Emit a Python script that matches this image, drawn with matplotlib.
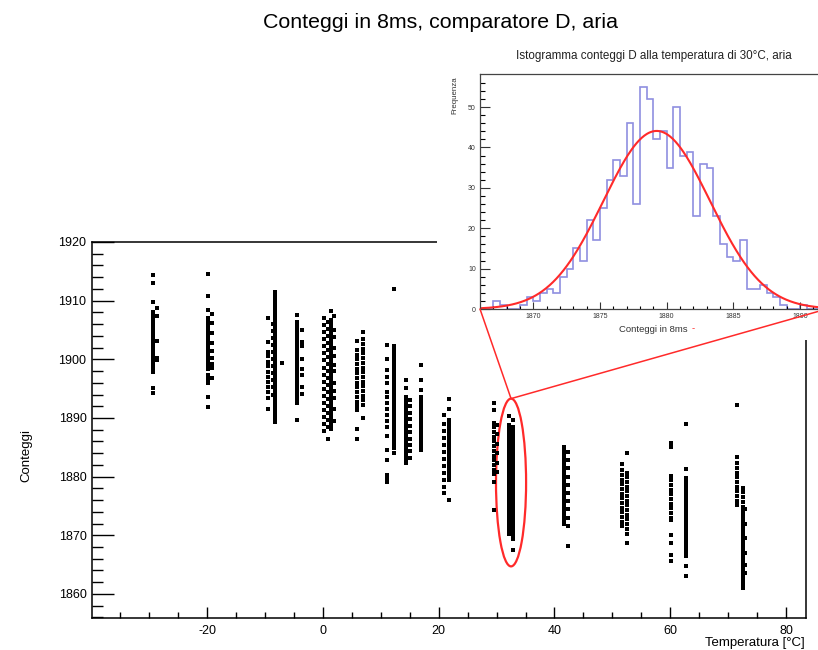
import matplotlib.pyplot as plt
import numpy as np
from matplotlib.patches import Ellipse, ConnectionPatch, Rectangle

plt.rcParams['font.family'] = ['Liberation Sans', 'DejaVu Sans']
plt.rcParams['axes.unicode_minus'] = False

# counts read per temperature column (each list = one vertical stripe of points)
c01a = [1914.4, 1913.0, 1909.7, 1908.1, 1907.6, 1907.1, 1906.6, 1906.1, 1905.6, 1905.1, 1904.6, 1904.1,
        1903.6, 1903.1, 1902.6, 1902.1, 1901.6, 1901.1, 1900.6, 1900.1, 1899.4, 1898.9, 1898.4, 1897.9,
        1895.1, 1894.3]
c01b = [1908.8, 1907.4, 1903.2, 1900.3, 1899.9]
c02a = [1914.5, 1910.8, 1908.4, 1907.0, 1906.4, 1905.9, 1905.4, 1904.9, 1904.4, 1903.9, 1903.4, 1902.9,
        1902.4, 1901.9, 1901.4, 1900.9, 1900.4, 1899.9, 1899.4, 1898.9, 1898.4, 1897.3, 1896.6, 1896.0,
        1893.6, 1891.9]
c02b = [1907.8, 1906.2, 1904.5, 1902.8, 1901.5, 1900.2, 1899.2, 1898.6, 1896.9]
c03a = [1911.5, 1910.9, 1910.3, 1909.7, 1909.1, 1908.5, 1907.9, 1907.3, 1906.7, 1906.1, 1905.5, 1904.9,
        1904.3, 1903.7, 1903.1, 1902.5, 1901.9, 1901.3, 1900.7, 1900.1, 1899.5, 1898.9, 1898.3, 1897.7,
        1897.1, 1896.5, 1895.9, 1895.3, 1894.7, 1894.1, 1893.5, 1892.9, 1892.3, 1891.7, 1891.1, 1890.5,
        1889.9, 1889.3]
c03b = [1906.0, 1904.8, 1903.6, 1902.4, 1901.2, 1900.0, 1898.8, 1897.6, 1896.4, 1895.2, 1894.0]
c03c = [1907.0, 1903.0, 1901.3, 1900.5, 1899.6, 1898.8, 1897.9, 1897.0, 1896.2, 1895.3, 1894.4, 1893.4,
        1891.5]
c03d = [1899.3]
c04a = [1907.6, 1906.4, 1905.8, 1905.2, 1904.6, 1904.0, 1903.4, 1902.8, 1902.2, 1901.6, 1901.0, 1900.4,
        1899.8, 1899.2, 1898.6, 1898.0, 1897.4, 1896.8, 1896.2, 1895.6, 1895.0, 1894.4, 1893.8, 1893.2,
        1892.6, 1889.7]
c04b = [1905.0, 1903.0, 1902.3, 1900.1, 1898.3, 1897.3, 1895.3, 1894.1]
c05a = [1907.0, 1905.8, 1904.6, 1903.4, 1902.2, 1901.0, 1899.8, 1898.6, 1897.4, 1896.2, 1895.0, 1893.8,
        1892.6, 1891.4, 1890.2, 1889.0, 1887.8]
c05d = [1906.4, 1905.2, 1904.0, 1902.8, 1901.6, 1900.4, 1899.2, 1898.0, 1896.8, 1895.6, 1894.4, 1893.2,
        1892.0, 1890.8, 1889.6, 1888.4, 1886.4]
c05b = [1908.2, 1906.7, 1906.1, 1905.5, 1904.9, 1904.3, 1903.7, 1903.1, 1902.5, 1901.9, 1901.3, 1900.7,
        1900.1, 1899.5, 1898.9, 1898.3, 1897.7, 1897.1, 1896.5, 1895.9, 1895.3, 1894.7, 1894.1, 1893.5,
        1892.9, 1892.3, 1891.7, 1891.1, 1890.5, 1889.9, 1889.3, 1888.7, 1888.1]
c05c = [1907.3, 1905.0, 1903.8, 1902.0, 1900.5, 1899.0, 1898.0, 1896.0, 1894.6, 1893.4, 1891.6, 1889.5]
c06a = [1903.2, 1901.6, 1900.8, 1900.0, 1899.2, 1898.4, 1897.6, 1896.8, 1896.0, 1895.2, 1894.4, 1893.6,
        1892.8, 1892.0, 1891.4, 1888.2, 1886.5]
c06b = [1904.7, 1903.5, 1902.6, 1901.8, 1901.0, 1900.2, 1899.4, 1898.6, 1897.8, 1897.0, 1896.2, 1895.4,
        1894.6, 1893.8, 1893.0, 1892.2, 1890.0]
c07a = [1912.0, 1902.2, 1901.6, 1901.0, 1900.4, 1899.8, 1899.2, 1898.6, 1898.0, 1897.4, 1896.8, 1896.2,
        1895.6, 1895.0, 1894.4, 1893.8, 1893.2, 1892.6, 1892.0, 1891.4, 1890.8, 1890.2, 1889.6, 1889.0,
        1888.4, 1887.8, 1887.2, 1886.6, 1886.0, 1885.4, 1884.8, 1884.0]
c07b = [1902.4, 1900.0, 1898.2, 1897.0, 1896.0, 1894.5, 1893.5, 1892.5, 1891.5, 1890.5, 1889.5, 1888.5,
        1887.0, 1884.5, 1882.8, 1880.3, 1879.7, 1879.1]
c08a = [1896.4, 1895.1, 1893.6, 1893.0, 1892.4, 1891.8, 1891.2, 1890.6, 1890.0, 1889.4, 1888.8, 1888.2,
        1887.6, 1887.0, 1886.4, 1885.8, 1885.2, 1884.6, 1884.0, 1883.4, 1882.8, 1882.3]
c08b = [1893.1, 1892.0, 1890.9, 1889.8, 1888.7, 1887.6, 1886.5, 1885.4, 1884.3, 1883.2]
c09a = [1899.0, 1896.5, 1894.8, 1893.6, 1893.0, 1892.4, 1891.8, 1891.2, 1890.6, 1890.0, 1889.4, 1888.8,
        1888.2, 1887.6, 1887.0, 1886.4, 1885.8, 1885.2, 1884.5]
c10a = [1890.5, 1889.0, 1887.8, 1886.6, 1885.4, 1884.2, 1883.0, 1881.8, 1880.6, 1879.4, 1878.3, 1877.2]
c10b = [1893.2, 1891.5, 1889.7, 1889.1, 1888.5, 1887.9, 1887.3, 1886.7, 1886.1, 1885.5, 1884.9, 1884.3,
        1883.7, 1883.1, 1882.5, 1881.9, 1881.3, 1880.7, 1880.1, 1879.5, 1876.0]
c11a = [1892.5, 1891.4, 1889.2, 1888.4, 1887.6, 1886.8, 1886.0, 1885.2, 1884.4, 1883.6, 1882.8, 1882.0,
        1881.2, 1880.4, 1879.1, 1874.3]
c11b = [1888.8, 1887.2, 1885.6, 1884.0, 1882.4, 1880.8]
c11c = [1890.4, 1888.8, 1888.2, 1887.6, 1887.0, 1886.4, 1885.8, 1885.2, 1884.6, 1884.0, 1883.4, 1882.8,
        1882.2, 1881.6, 1881.0, 1880.4, 1879.8, 1879.2, 1878.6, 1878.0, 1877.4, 1876.8, 1876.2, 1875.6,
        1875.0, 1874.4, 1873.8, 1873.2, 1872.6, 1872.0, 1871.4, 1870.8, 1870.2]
c11d = [1889.7, 1888.5, 1887.9, 1887.3, 1886.7, 1886.1, 1885.5, 1884.9, 1884.3, 1883.7, 1883.1, 1882.5,
        1881.9, 1881.3, 1880.7, 1880.1, 1879.5, 1878.9, 1878.3, 1877.7, 1877.1, 1876.5, 1875.9, 1875.3,
        1874.7, 1874.1, 1873.5, 1872.9, 1872.3, 1871.7, 1871.1, 1870.5, 1869.9, 1869.3, 1867.5]
c12a = [1885.1, 1884.5, 1883.9, 1883.3, 1882.7, 1882.1, 1881.5, 1880.9, 1880.3, 1879.7, 1879.1, 1878.5,
        1877.9, 1877.3, 1876.7, 1876.1, 1875.5, 1874.9, 1874.3, 1873.7, 1873.1, 1872.5, 1871.9]
c12b = [1884.2, 1882.8, 1881.4, 1880.0, 1878.6, 1877.2, 1875.8, 1874.4, 1873.0, 1871.5, 1868.1]
c13a = [1882.2, 1881.1, 1880.3, 1879.5, 1878.7, 1877.9, 1877.1, 1876.3, 1875.5, 1874.7, 1873.9, 1873.1,
        1872.3, 1871.5]
c13b = [1884.1, 1880.7, 1879.9, 1879.1, 1878.3, 1877.5, 1876.7, 1875.9, 1875.1, 1874.3, 1873.5, 1872.7,
        1871.9, 1871.1, 1870.3, 1868.7]
c14a = [1885.8, 1885.0, 1880.1, 1879.4, 1878.6, 1877.8, 1877.0, 1876.2, 1875.4, 1874.6, 1873.8, 1873.0,
        1872.6, 1870.1, 1868.7, 1866.6, 1865.7]
c14b = [1889.0, 1881.3, 1879.7, 1879.1, 1878.5, 1877.9, 1877.3, 1876.7, 1876.1, 1875.5, 1874.9, 1874.3,
        1873.7, 1873.1, 1872.5, 1871.9, 1871.3, 1870.7, 1870.1, 1869.5, 1868.9, 1868.3, 1867.7, 1867.1,
        1866.4, 1864.8, 1863.0]
c15a = [1892.2, 1883.3, 1882.3, 1881.5, 1880.7, 1879.9, 1879.1, 1878.3, 1877.5, 1876.7, 1875.9, 1875.1]
c15b = [1878.1, 1877.3, 1876.5, 1875.7, 1874.9, 1874.1, 1873.5, 1872.9, 1872.3, 1871.7, 1871.1, 1870.5,
        1869.9, 1869.3, 1868.7, 1868.1, 1867.5, 1866.9, 1866.3, 1865.7, 1865.1, 1864.5, 1863.9, 1863.3,
        1862.7, 1862.1, 1861.5, 1861.0]
c15c = [1874.5, 1872.0, 1869.5, 1867.0, 1865.0, 1863.5]

# temperature of each stripe
col_temps = [-29.3, -28.6, -19.9, -19.2, -8.2, -8.7, -9.5, -7.1, -4.4, -3.6, 0.2, 0.8, 1.4, 1.9,
             5.9, 7.0, 12.3, 11.0, 14.4, 15.1, 17.0, 21.0, 21.7, 29.6, 30.1, 32.2, 32.9,
             41.7, 42.3, 51.6, 52.6, 60.1, 62.8, 71.6, 72.5, 73.0]
col_counts = [c01a, c01b, c02a, c02b, c03a, c03b, c03c, c03d, c04a, c04b, c05a, c05d, c05b, c05c,
              c06a, c06b, c07a, c07b, c08a, c08b, c09a, c10a, c10b, c11a, c11b, c11c, c11d,
              c12a, c12b, c13a, c13b, c14a, c14b, c15a, c15b, c15c]

# inset histogram at 30 C, bins of 0.5 from 1866 to 1892
hist_lo, hist_hi = 1866.0, 1892.0
hist_counts = [0, 0, 2, 1, 0, 0, 1, 3, 2, 4, 5, 4, 8, 10, 15, 12, 22, 17, 25, 32, 37, 33, 46, 26,
               55, 52, 42, 44, 35, 50, 38, 39, 23, 36, 35, 23, 16, 13, 12, 17, 5, 5, 6, 4, 3, 1,
               0, 0, 1, 0, 0, 0]
fit_amp, fit_mean, fit_sigma = 44.1, 1879.25, 4.0

W, H = 818, 650
fig = plt.figure(figsize=(W / 100, H / 100), dpi=100)


def frac(x0, y0, x1, y1):
    return [x0 / W, 1 - y1 / H, (x1 - x0) / W, (y1 - y0) / H]


ax = fig.add_axes(frac(92, 242, 806, 618), zorder=1)
for t, c in zip(col_temps, col_counts):
    ax.plot([t] * len(c), c, 's', color='black', ms=3.4, mew=0)

ax.set_xlim(-39.9, 83.46)
ax.set_ylim(1855.9, 1920)
ax.set_xticks([-20, 0, 20, 40, 60, 80])
ax.set_xticks(np.arange(-35, 85, 5), minor=True)
ax.set_yticks([1860, 1870, 1880, 1890, 1900, 1910, 1920])
ax.set_yticks(np.arange(1856, 1920, 2), minor=True)
ax.tick_params(axis='x', direction='in', length=8.2, width=1, labelsize=9, pad=5)
ax.tick_params(axis='x', which='minor', direction='in', length=4.1, width=1)
ax.tick_params(axis='y', direction='in', length=15.5, width=1, labelsize=9, pad=4)
ax.tick_params(axis='y', which='minor', direction='in', length=8, width=1)
for s in ax.spines.values():
    s.set_linewidth(1.1)

ell = Ellipse((32.5, 1879.0), width=5.2, height=28.6, fill=False, edgecolor='#ff2a2a', lw=1.6)
ax.add_patch(ell)

fig.text(440 / W, 1 - 22 / H, 'Conteggi in 8ms, comparatore D, aria', ha='center', va='center',
         fontsize=15.4)
fig.text(26 / W, 1 - 455 / H, 'Conteggi', rotation=90, ha='center', va='center', fontsize=9.5)
fig.text(805 / W, 1 - 643 / H, 'Temperatura [°C]', ha='right', va='center', fontsize=9.5)

# white pad that hides the corner of the main frame
pad = Rectangle((437 / W, 1 - 340 / H), (W - 437) / W, (340 - 35) / H, transform=fig.transFigure,
                facecolor='white', edgecolor='none', zorder=2)
fig.add_artist(pad)

axin = fig.add_axes(frac(480, 74, 826.7, 309), zorder=3)
edges = np.linspace(hist_lo, hist_hi, len(hist_counts) + 1)
axin.stairs(hist_counts, edges, color='#8f8fe0', lw=1.2)
xs = np.linspace(hist_lo, hist_hi, 400)
axin.plot(xs, fit_amp * np.exp(-0.5 * ((xs - fit_mean) / fit_sigma) ** 2), color='#ff2a2a', lw=1.5)
axin.set_xlim(hist_lo, hist_hi)
axin.set_ylim(0, 58.2)
axin.set_xticks([1870, 1875, 1880, 1885, 1890])
axin.set_xticks(np.arange(1867, 1892, 1), minor=True)
axin.set_yticks([0, 10, 20, 30, 40, 50])
axin.set_yticks(np.arange(2, 58, 2), minor=True)
axin.tick_params(axis='x', direction='in', length=5, width=0.8, labelsize=5, pad=3, colors='#333333')
axin.tick_params(axis='x', which='minor', direction='in', length=2.5, width=0.8)
axin.tick_params(axis='y', direction='in', length=7.5, width=0.8, labelsize=5, pad=3, colors='#333333')
axin.tick_params(axis='y', which='minor', direction='in', length=3.7, width=0.8)
for s in axin.spines.values():
    s.set_linewidth(0.9)
    s.set_color('#444444')

fig.text(654 / W, 1 - 56 / H, 'Istogramma conteggi D alla temperatura di 30°C, aria', ha='center',
         va='center', fontsize=8.4, color='#222222')
fig.text(455 / W, 1 - 76 / H, 'Frequenza', rotation=90, ha='center', va='top', fontsize=5.7,
         color='#333333')
fig.text(653 / W, 1 - 329 / H, 'Conteggi in 8ms', ha='center', va='center', fontsize=6.8,
         color='#333333')
fig.text(693 / W, 1 - 329 / H, '-', ha='center', va='center', fontsize=6.8, color='#ff2a2a')

for xyb in [(0, 0), (1, 0)]:
    con = ConnectionPatch(xyA=(32.5, 1893.3), coordsA=ax.transData, xyB=xyb, coordsB=axin.transAxes,
                          color='#ff2a2a', lw=1.1, zorder=4)
    fig.add_artist(con)

fig.savefig('out.png', dpi=100)
